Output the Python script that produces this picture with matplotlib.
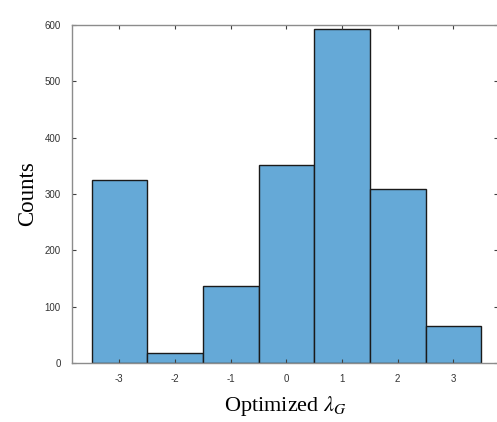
import matplotlib
matplotlib.use('Agg')
import matplotlib.pyplot as plt

# histogram of optimized lambda_G (bin centres and counts)
bin_centers = [-3, -2, -1, 0, 1, 2, 3]
counts = [324, 17, 137, 352, 592, 309, 65]

plt.rcParams['mathtext.fontset'] = 'stix'
plt.rcParams['axes.unicode_minus'] = False

fig = plt.figure(figsize=(4.97, 4.22), dpi=100)
ax = fig.add_axes([0.1449, 0.1398, 0.857, 0.801])

ax.bar(bin_centers, counts, width=1.0, color='#65A9D7', edgecolor='#1a1a1a', linewidth=1.0)

ax.set_xlim(-3.85, 3.8)
ax.set_ylim(0, 600)
ax.set_xticks(bin_centers)
ax.set_yticks([0, 100, 200, 300, 400, 500, 600])

for s in ax.spines.values():
    s.set_color('#8c8c8c')
    s.set_linewidth(1.0)
ax.spines['right'].set_visible(False)
ax.tick_params(direction='in', length=3, width=0.8, color='#404040',
               labelsize=7, labelcolor='#333333', top=True, right=True,
               labelfontfamily='Liberation Sans', pad=8)

ax.set_xlabel(r'Optimized $\lambda_G$', fontsize=16, family='Liberation Serif', labelpad=7)
ax.set_ylabel('Counts', fontsize=16.5, family='Liberation Serif', labelpad=5)

fig.savefig('out.png', dpi=100)
